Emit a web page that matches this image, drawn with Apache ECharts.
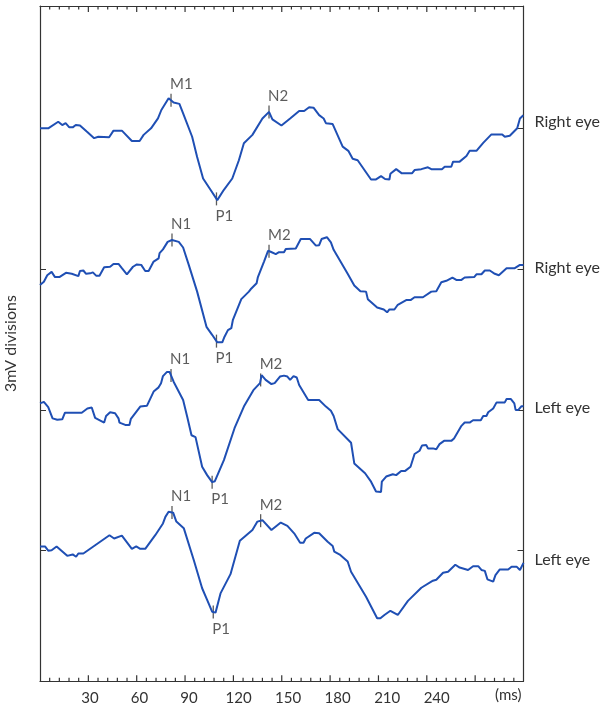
<!DOCTYPE html>
<html>
<head>
<meta charset="utf-8">
<script src="https://cdn.jsdelivr.net/npm/echarts@6/dist/echarts.min.js"></script>
<style>html,body{margin:0;padding:0;background:#fff}#c{width:605px;height:708px}</style>
</head>
<body>
<div id="c"></div>
<script>
// ---- data: time (ms) and amplitude (mV, relative to each trace's baseline) ----
const trace1 = [[0,0],[5.1,0],[11.3,0.14],[13.8,0.07],[15.9,0.11],[18.2,0.02],[20.3,0.02],[22.2,0.07],[24.8,0.06],[29,-0.07],[33.6,-0.21],[36.2,-0.18],[42.9,-0.19],[45.6,-0.05],[50.8,-0.05],[57,-0.27],[61.8,-0.27],[64.3,-0.14],[68.9,0],[73.2,0.21],[75.3,0.39],[79.8,0.64],[82.9,0.55],[86.5,0.52],[88.8,0.32],[94.4,-0.18],[97.5,-0.61],[101.2,-1.07],[105.8,-1.31],[110,-1.53],[114.1,-1.31],[119.3,-1.07],[123.4,-0.68],[126.5,-0.32],[131.8,-0.14],[138,0.21],[142.1,0.35],[144.2,0.19],[149.8,0.06],[155.2,0.21],[160.8,0.37],[163.9,0.37],[167,0.45],[169.7,0.44],[173.2,0.28],[176,0.21],[177.4,0.11],[181.6,0.09],[187.8,-0.39],[191.3,-0.48],[194,-0.65],[197.1,-0.68],[205.4,-1.09],[208.5,-1.09],[211.6,-1.02],[214.1,-1.08],[216.8,-1.09],[217.4,-0.97],[221,-0.87],[224.5,-0.96],[230.8,-0.96],[232.4,-0.89],[236.6,-0.87],[240.7,-0.83],[242.8,-0.87],[249.4,-0.87],[251.1,-0.82],[255.2,-0.82],[256.3,-0.71],[260.4,-0.71],[264.6,-0.59],[266.6,-0.48],[270.8,-0.48],[275,-0.31],[280.1,-0.13],[286.8,-0.13],[288.4,-0.18],[291.5,-0.16],[296.1,0],[297.8,0.21],[299.9,0.28],[300,0.28]];
const trace2 = [[0,-0.34],[2.4,-0.27],[4.5,-0.13],[7.2,-0.06],[9.3,-0.17],[12,-0.17],[16.1,-0.08],[19.7,-0.1],[23.8,-0.15],[24.8,-0.04],[26.9,-0.03],[28.6,-0.1],[31.1,-0.09],[32.8,-0.07],[34.8,-0.14],[36.9,-0.14],[39.8,0.04],[43.5,0.05],[45.6,0.11],[48.7,0.11],[50.8,0.02],[53.9,-0.11],[57.7,0.05],[60.1,0.1],[62.8,0.09],[65.3,-0.04],[67.4,-0.04],[70.5,0.16],[73.6,0.23],[74.2,0.34],[76.3,0.42],[79.2,0.58],[81.9,0.62],[86.1,0.58],[88.8,0.46],[92.3,0.09],[97.5,-0.48],[103.3,-1.23],[106.8,-1.4],[110,-1.56],[113.1,-1.56],[114.5,-1.44],[116.6,-1.3],[118.7,-1.26],[119.7,-1.08],[124.9,-0.64],[129.6,-0.48],[130.7,-0.43],[134.4,-0.3],[135.2,-0.17],[139,0.16],[141.5,0.39],[143.1,0.37],[146.3,0.32],[148.3,0.36],[151.4,0.36],[152.5,0.43],[158.7,0.44],[161.8,0.64],[167.6,0.64],[171.2,0.5],[173.2,0.51],[174.7,0.64],[178,0.68],[180.5,0.57],[182.2,0.41],[190.9,-0.1],[195,-0.35],[198.8,-0.47],[202.3,-0.48],[203.4,-0.64],[209.2,-0.82],[213.3,-0.86],[215.4,-0.92],[216.8,-0.86],[219.9,-0.86],[222,-0.76],[227.2,-0.66],[229.9,-0.66],[232.4,-0.6],[237.6,-0.6],[242.8,-0.48],[245.9,-0.47],[249,-0.28],[252.1,-0.25],[255.9,-0.18],[258.3,-0.23],[261.5,-0.23],[263.5,-0.18],[269.4,-0.17],[270.8,-0.11],[273.9,-0.11],[276,-0.03],[279.1,-0.03],[282.2,-0.1],[284.7,-0.13],[289.5,0.02],[294.6,0.02],[297.8,0.09],[300,0.09]];
const trace3 = [[0,0.14],[2.4,0.17],[5.1,0.06],[7.8,-0.18],[10.7,-0.21],[13.8,-0.2],[15.5,-0.06],[25.9,-0.06],[29.4,0.03],[32.1,0.05],[34.2,-0.17],[39.8,-0.27],[41,-0.13],[43.5,-0.05],[46.6,-0.07],[48.7,-0.18],[49.3,-0.27],[52.9,-0.32],[55.5,-0.32],[56.4,-0.19],[62.2,0.07],[66.4,0.09],[70.5,0.39],[73.6,0.48],[75.1,0.57],[76.3,0.72],[78.8,0.81],[80.4,0.81],[82.9,0.6],[88.8,0.21],[91.3,-0.14],[94,-0.54],[96.5,-0.58],[100.6,-1.21],[103.7,-1.39],[106.8,-1.54],[108.5,-1.52],[114.1,-1.07],[120.7,-0.39],[126.5,0.07],[132.4,0.42],[136.5,0.57],[137.5,0.74],[140,0.64],[143.6,0.55],[145.6,0.57],[148.9,0.71],[151.4,0.73],[153.5,0.71],[155.2,0.64],[157.3,0.72],[159.3,0.69],[160.8,0.53],[166.4,0.21],[173.2,0.21],[177.4,0.07],[180.5,-0.02],[182.2,-0.13],[184.7,-0.41],[193,-0.7],[195,-1.14],[201.7,-1.35],[205.4,-1.53],[208.5,-1.74],[211.6,-1.75],[212.1,-1.53],[214.8,-1.42],[218.9,-1.37],[221,-1.39],[224.1,-1.3],[226.6,-1.3],[229.9,-1.21],[232.4,-0.94],[235.5,-0.87],[237,-0.76],[239.7,-0.75],[240.7,-0.82],[243.8,-0.82],[245.9,-0.84],[247.9,-0.73],[250.7,-0.66],[255.2,-0.66],[256.9,-0.61],[261.5,-0.34],[263.5,-0.27],[266.6,-0.27],[268.7,-0.22],[273.5,-0.22],[275,-0.13],[277,-0.13],[278.1,-0.05],[281.2,0.03],[283.3,0.16],[288.4,0.16],[289.5,0.23],[292.2,0.23],[294.3,0.14],[295.1,0],[296.8,0],[298.8,0.08],[300,0.08]];
const trace4 = [[0,0.09],[3.1,0.09],[5.1,0],[7.2,0.01],[10.3,0.09],[16.9,-0.11],[20.3,-0.08],[22.4,-0.13],[23.8,-0.06],[26.9,-0.06],[43.1,0.33],[46,0.26],[50.8,0.32],[57,0.04],[59.7,0.09],[62.2,0.04],[65.3,0.04],[71.5,0.33],[76.3,0.58],[77.8,0.72],[79.8,0.83],[82.6,0.81],[84.6,0.62],[89.2,0.48],[95.4,-0.2],[100.6,-0.8],[103.7,-1.05],[106.8,-1.3],[108.9,-1.32],[112,-0.91],[118.2,-0.5],[124,0.21],[131.8,0.44],[134.9,0.62],[138,0.65],[143.6,0.44],[149.4,0.6],[153.5,0.53],[157.7,0.37],[161.4,0.17],[163.5,0.17],[164.9,0.26],[170.1,0.38],[173.2,0.37],[178.5,0.19],[181.6,0.1],[182.6,-0.02],[186.3,-0.09],[190.9,-0.23],[193,-0.45],[202.3,-0.98],[209.2,-1.44],[211.2,-1.44],[213.7,-1.37],[217.4,-1.28],[222,-1.37],[228.3,-1.07],[236.6,-0.79],[243.8,-0.64],[245.9,-0.62],[250.1,-0.47],[253.2,-0.45],[257.7,-0.3],[260.4,-0.36],[265.6,-0.41],[268.7,-0.33],[271.9,-0.33],[273.9,-0.41],[276,-0.43],[277.6,-0.61],[281.2,-0.66],[282.6,-0.52],[285.3,-0.4],[290.5,-0.4],[292.6,-0.34],[295.7,-0.34],[297.8,-0.41],[300,-0.26]];

const traceNames = ['Right eye', 'Right eye', 'Left eye', 'Left eye'];
const baselines = [9, 6, 3, 0];           // trace offsets, 3 mV divisions
// peak annotations: [label, time ms, side]
const peaks1 = [['M1', 81.3, 'top'], ['P1', 109.5, 'bottom'], ['N2', 142.1, 'top']];
const peaks2 = [['N1', 81.9, 'top'], ['P1', 109.5, 'bottom'], ['M2', 142.1, 'top']];
const peaks3 = [['N1', 81.3, 'top'], ['P1', 106.8, 'bottom'], ['M2', 136.9, 'top']];
const peaks4 = [['N1', 81.9, 'top'], ['P1', 107.5, 'bottom'], ['M2', 136.9, 'top']];
const xTickLabels = [30, 60, 90, 120, 150, 180, 210, 240];
const majorTicks = [30, 60, 90, 120, 150, 180, 210, 240, 270];
const minorTicks = [];
for (let t = 6; t < 300; t += 6) if (t % 30 !== 0) minorTicks.push(t);

// ---- build ----
const traces = [trace1, trace2, trace3, trace4];
const peaks = [peaks1, peaks2, peaks3, peaks4];
const endOffsets = [7, 3, 2, -3];
const BLUE = '#1f4fb4';
const TXT = '#333333';
const FONT = 'Lato';
const yMin = -2.783, yMax = 11.606;

function interp(tr, t) {
  for (let i = 1; i < tr.length; i++) {
    if (tr[i][0] >= t) {
      const [t0, v0] = tr[i - 1], [t1, v1] = tr[i];
      return v0 + (v1 - v0) * (t - t0) / (t1 - t0);
    }
  }
  return tr[tr.length - 1][1];
}

const series = [];
traces.forEach((tr, k) => {
  series.push({
    type: 'line', xAxisIndex: 0, yAxisIndex: 0, name: traceNames[k],
    data: tr.map(p => [p[0], p[1] + baselines[k]]),
    symbol: 'none', lineStyle: { color: BLUE, width: 2 }, silent: true,
    endLabel: { show: true, formatter: traceNames[k], distance: 11, offset: [0, endOffsets[k]],
      color: TXT, fontSize: 16, fontFamily: FONT }
  });
});
traces.forEach((tr, k) => {
  peaks[k].forEach(([name, t, side]) => {
    series.push({
      type: 'scatter', xAxisIndex: 0, yAxisIndex: 0, silent: true,
      symbol: 'rect', symbolSize: [1.3, 13],
      itemStyle: { color: '#333' },
      data: [[t, interp(tr, t) + baselines[k]]],
      label: { show: true, formatter: name, position: side, align: 'left',
        distance: side === 'top' ? 2 : 3, offset: [-1, 0],
        color: TXT, fontSize: 15, fontFamily: FONT }
    });
  });
});

// frame ticks pointing inward on bottom and top edges, placed through the x scale
// (drawn on their own canvas layer, above everything else)
function tickSeries(values, edge, len) {
  const atTop = edge === yMax;
  return {
    type: 'scatter', xAxisIndex: 0, yAxisIndex: 0, silent: true, clip: false,
    zlevel: 1, z: 10,
    symbol: 'rect', symbolSize: [1.2, len], symbolOffset: [0, atTop ? len / 2 : -len / 2],
    itemStyle: { color: '#333', opacity: 1 },
    data: values.map(t => [t, edge])
  };
}
series.push(tickSeries(majorTicks, yMin, 6));
series.push(tickSeries(minorTicks, yMin, 3.5));
series.push(tickSeries(majorTicks, yMax, 6));
series.push(tickSeries(minorTicks, yMax, 3.5));

function ls(w) { return { color: '#333', width: w }; }
function frameX(pos) {
  return {
    type: 'value', position: pos, min: 0, max: 300,
    splitLine: { show: false }, axisLabel: { show: false }, axisTick: { show: false },
    axisLine: { show: true, onZero: false, lineStyle: ls(1.2) }
  };
}

const option = {
  animation: false,
  grid: { left: 40, right: 81.5, top: 6, bottom: 26.7, outerBoundsMode: 'none', containLabel: false },
  xAxis: [
    frameX('bottom'),
    frameX('top'),
    { type: 'value', position: 'bottom', min: -0.28, max: 292.57, splitLine: { show: false },
      axisLine: { show: false, onZero: false }, axisTick: { show: false },
      axisLabel: { show: true, customValues: xTickLabels, margin: 9, color: TXT, fontSize: 15, fontFamily: FONT } }
  ],
  yAxis: [
    { type: 'value', position: 'left', min: yMin, max: yMax, splitLine: { show: false },
      axisLine: { show: true, onZero: false, lineStyle: ls(1.2) },
      axisTick: { show: true, inside: true, length: 6, customValues: baselines, lineStyle: ls(1) },
      axisLabel: { show: false },
      name: '3mV divisions', nameLocation: 'middle', nameRotate: 90, nameGap: 21,
      nameTextStyle: { color: TXT, fontSize: 16, fontFamily: FONT } },
    { type: 'value', position: 'right', min: yMin, max: yMax, splitLine: { show: false },
      axisLine: { show: true, onZero: false, lineStyle: ls(1.2) },
      axisTick: { show: true, inside: true, length: 6, customValues: baselines, lineStyle: ls(1) },
      axisLabel: { show: false } }
  ],
  graphic: [
    { type: 'text', left: 495, top: 688, style: { text: '(ms)', fill: TXT, font: '15px ' + FONT } }
  ],
  series
};

const chart = echarts.init(document.getElementById('c'), null, { renderer: 'canvas' });
chart.setOption(option);
</script>
</body>
</html>
